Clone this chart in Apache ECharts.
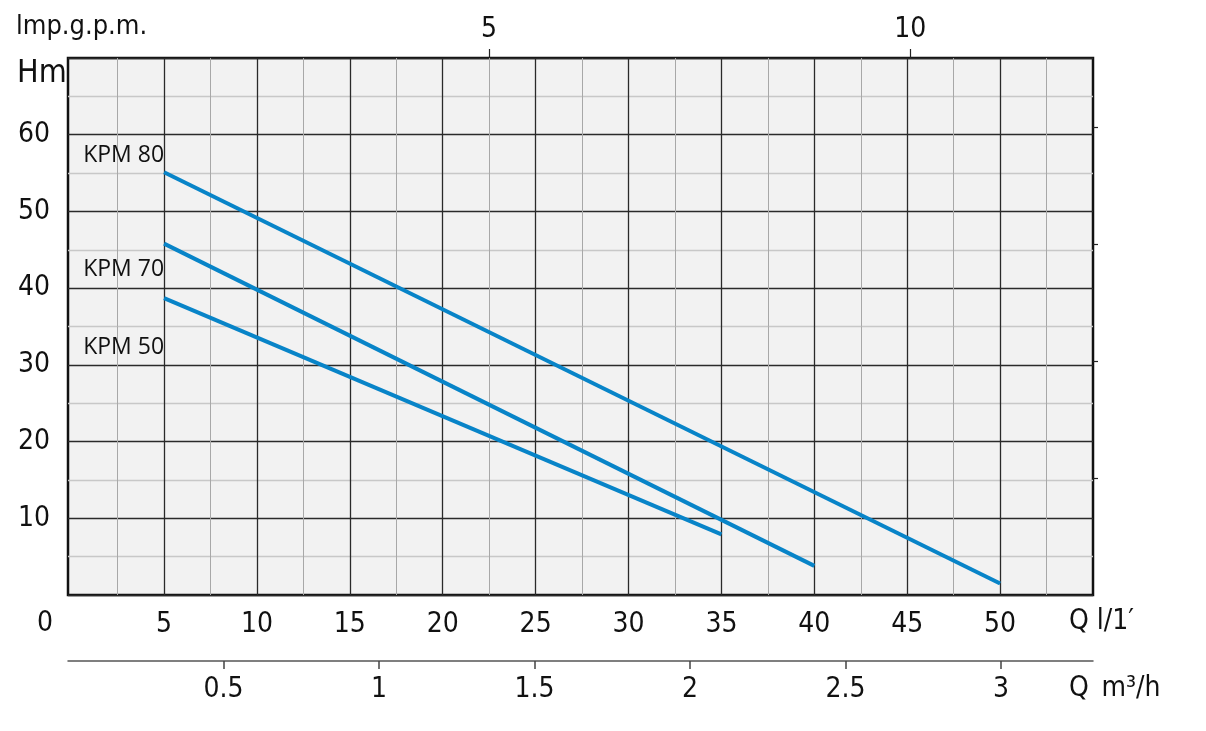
<!DOCTYPE html>
<html>
<head>
<meta charset="utf-8">
<script src="https://cdn.jsdelivr.net/npm/echarts@6/dist/echarts.min.js"></script>
<style>
html,body{margin:0;padding:0;background:#fff;}
#chart{width:1206px;height:731px;}
</style>
</head>
<body>
<div id="chart"></div>
<script>
// ---- data ----
const seriesNames = ['KPM 80', 'KPM 70', 'KPM 50'];
const kpm80 = [[5, 55.1], [50, 1.5]];
const kpm70 = [[5, 45.8], [40, 3.8]];
const kpm50 = [[5, 38.7], [35, 7.9]];
const labelPos = [[5, 57.3], [5, 42.5], [5, 32.3]];
const qLminTicks = [5, 10, 15, 20, 25, 30, 35, 40, 45, 50];
const qLminMajorGrid = [5, 10, 15, 20, 25, 30, 35, 40, 45, 50];
const qLminMinorGrid = [2.5, 7.5, 12.5, 17.5, 22.5, 27.5, 32.5, 37.5, 42.5, 47.5, 52.5];
const hTicks = [10, 20, 30, 40, 50, 60];
const gpmTicks = [5, 10];
const m3hTicks = [0.5, 1, 1.5, 2, 2.5, 3];
const feetTicks = [50, 100, 150, 200];

const FONT = '"Liberation Sans Narrow", "DejaVu Sans Condensed", Roboto, sans-serif';
const LABEL_FONT = '"Open Sans", "Noto Sans", sans-serif';
const BLUE = '#0884c8';
const MAJOR = '#2a2a2a';
const MINOR_V = '#a8a8a8';
const MINOR_H = '#c8c8c8';

const chart = echarts.init(document.getElementById('chart'), null, {renderer: 'canvas'});

const curves = [kpm80, kpm70, kpm50];
const series = curves.map((d, i) => ({
  name: seriesNames[i],
  type: 'line',
  xAxisIndex: 0,
  yAxisIndex: 0,
  data: d,
  symbol: 'none',
  z: 5,
  lineStyle: {color: BLUE, width: 4, cap: 'butt'},
  animation: false,
  markPoint: {
    silent: true,
    animation: false,
    symbol: 'circle',
    symbolSize: 0,
    data: [{coord: labelPos[i], value: seriesNames[i]}],
    label: {
      show: true,
      position: 'left',
      distance: 0,
      formatter: seriesNames[i],
      fontFamily: LABEL_FONT,
      fontSize: 23,
      color: '#111'
    }
  }
}));

// vertical grid lines helper
series.push({
  type: 'line',
  xAxisIndex: 0,
  yAxisIndex: 0,
  data: [],
  z: 1,
  silent: true,
  animation: false,
  markLine: {
    silent: true,
    animation: false,
    symbol: ['none', 'none'],
    label: {show: false},
    data: qLminMinorGrid.map(v => ({xAxis: v, lineStyle: {color: MINOR_V, width: 1, type: 'solid'}}))
      .concat(qLminMajorGrid.map(v => ({xAxis: v, lineStyle: {color: MAJOR, width: 1.3, type: 'solid'}})))
  }
});

const option = {
  backgroundColor: '#ffffff',
  animation: false,
  grid: {
    left: 68, top: 58, right: 113, bottom: 136,
    show: true,
    backgroundColor: '#f2f2f2',
    borderColor: '#111',
    borderWidth: 2.5
  },
  xAxis: [
    {
      type: 'value', position: 'bottom',
      min: -0.17, max: 55,
      axisLine: {show: false, onZero: false},
      axisTick: {show: false},
      splitLine: {show: false},
      axisLabel: {
        customValues: qLminTicks,
        fontFamily: FONT, fontSize: 28, color: '#111', margin: 16
      }
    },
    {
      type: 'value', position: 'top',
      min: 0, max: 12.17,
      axisLine: {show: false, onZero: false},
      axisTick: {show: true, customValues: gpmTicks, length: 9, lineStyle: {color: '#222', width: 1.2}},
      splitLine: {show: false},
      axisLabel: {
        customValues: gpmTicks,
        fontFamily: FONT, fontSize: 28, color: '#111', margin: 14
      }
    },
    {
      type: 'value', position: 'bottom', offset: 66,
      min: 0, max: 3.296,
      axisLine: {show: true, onZero: false, lineStyle: {color: '#555', width: 1.5}},
      axisTick: {show: true, customValues: m3hTicks, length: 8, lineStyle: {color: '#444', width: 1.5}},
      splitLine: {show: false},
      axisLabel: {
        customValues: m3hTicks,
        fontFamily: FONT, fontSize: 28, color: '#111', margin: 15
      }
    }
  ],
  yAxis: [
    {
      type: 'value', position: 'left',
      min: 0, max: 70, interval: 5,
      axisLine: {show: false, onZero: false},
      axisTick: {show: false},
      splitLine: {show: true, lineStyle: {color: [MAJOR, MINOR_H], width: 1.3}},
      axisLabel: {
        customValues: hTicks,
        fontFamily: FONT, fontSize: 28, color: '#111', margin: 18
      }
    },
    {
      type: 'value', position: 'right',
      min: 0, max: 229.66,
      axisLine: {show: false, onZero: false},
      axisTick: {show: true, customValues: feetTicks, length: 5, lineStyle: {color: '#222', width: 1.2}},
      splitLine: {show: false},
      axisLabel: {show: false}
    }
  ],
  graphic: [
    {type: 'text', left: 16, top: 13, silent: true,
     style: {text: 'lmp.g.p.m.', font: '27px ' + FONT, fill: '#111'}},
    {type: 'text', left: 17, top: 58, silent: true,
     style: {text: 'Hm', font: '32px ' + FONT, fill: '#111'}},
    {type: 'text', left: 37, top: 610, silent: true,
     style: {text: '0', font: '28px ' + FONT, fill: '#111'}},
    {type: 'text', left: 1069, top: 608, silent: true,
     style: {text: 'Q l/1\u2032', font: '28px ' + FONT, fill: '#111'}},
    {type: 'text', left: 1069, top: 675, silent: true,
     style: {text: 'Q\u2002m\u00B3/h', font: '28px ' + FONT, fill: '#111'}}
  ],
  series: series
};

chart.setOption(option);
</script>
</body>
</html>
